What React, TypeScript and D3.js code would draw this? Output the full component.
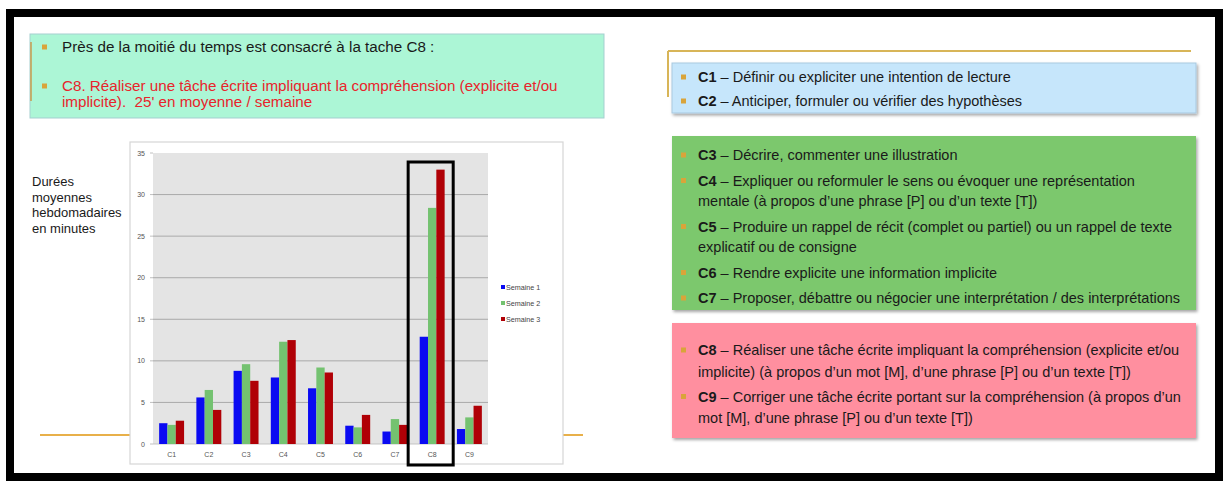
import React from 'react';
import * as d3 from 'd3';

const categories = ['C1', 'C2', 'C3', 'C4', 'C5', 'C6', 'C7', 'C8', 'C9'];
const semaine1 = [2.5, 5.6, 8.8, 8.0, 6.7, 2.2, 1.5, 12.9, 1.8];
const semaine2 = [2.3, 6.5, 9.6, 12.3, 9.2, 2.0, 3.0, 28.4, 3.2];
const semaine3 = [2.8, 4.1, 7.6, 12.5, 8.6, 3.5, 2.3, 33.0, 4.6];
const seriesNames = ['Semaine 1', 'Semaine 2', 'Semaine 3'];
const seriesColors = ['#0a0af2', '#74c270', '#b00006'];
const yTicks = [0, 5, 10, 15, 20, 25, 30, 35];
const yTitle = ['Durées', 'moyennes', 'hebdomadaires', 'en minutes'];
const highlight = 'C8';

// texte des encadrés de droite : [code, suite, lignes de continuation]
const blueItems: [string, string, string[]][] = [
  ['C1', ' – Définir ou expliciter une intention de lecture', []],
  ['C2', ' – Anticiper, formuler ou vérifier des hypothèses', []],
];
const greenItems: [string, string, string[]][] = [
  ['C3', ' – Décrire, commenter une illustration', []],
  ['C4', ' – Expliquer ou reformuler le sens ou évoquer une représentation', ['mentale (à propos d’une phrase [P] ou d’un texte [T])']],
  ['C5', ' – Produire un rappel de récit (complet ou partiel) ou un rappel de texte', ['explicatif ou de consigne']],
  ['C6', ' – Rendre explicite une information implicite', []],
  ['C7', ' – Proposer, débattre ou négocier une interprétation / des interprétations', []],
];
const pinkItems: [string, string, string[]][] = [
  ['C8', ' – Réaliser une tâche écrite impliquant la compréhension (explicite et/ou', ['implicite) (à propos d’un mot [M], d’une phrase [P] ou d’un texte [T])']],
  ['C9', ' – Corriger une tâche écrite portant sur la compréhension (à propos d’un', ['mot [M], d’une phrase [P] ou d’un texte [T])']],
];

const FONT = '"Liberation Sans", Arial, sans-serif';
const W = 1229;
const H = 484;

const Bullet = ({ x, y }: { x: number; y: number }) => (
  <rect x={x} y={y - 2.5} width={5} height={5} fill="#d9a43a" />
);

const Panel = ({ items, y0, lineH, gapH }: { items: [string, string, string[]][]; y0: number; lineH: number; gapH: number }) => {
  let y = y0;
  const out: React.ReactNode[] = [];
  items.forEach((it, i) => {
    out.push(<Bullet key={'b' + i} x={681} y={y - 5} />);
    out.push(
      <text key={'t' + i} x={698} y={y} fontSize={14.5} fill="#1a1a1a">
        <tspan fontWeight="bold">{it[0]}</tspan>
        <tspan>{it[1]}</tspan>
      </text>
    );
    it[2].forEach((l, j) => {
      y += lineH;
      out.push(<text key={'c' + i + j} x={698} y={y} fontSize={14.5} fill="#1a1a1a">{l}</text>);
    });
    y += gapH;
  });
  return <g>{out}</g>;
};

const App = () => {
  const plot = { left: 153, right: 488, top: 153, bottom: 444 };
  const frame = { left: 130, right: 563, top: 142, bottom: 464 };

  const x = d3.scaleBand<string>().domain(categories).range([plot.left, plot.right]).paddingInner(0.33).paddingOuter(0.165);
  const xs = d3.scaleBand<string>().domain(seriesNames).range([0, x.bandwidth()]);
  const y = d3.scaleLinear().domain([0, 35]).range([plot.bottom, plot.top]);
  const series = [semaine1, semaine2, semaine3];

  const hx0 = (x(highlight) as number) - x.step() * 0.31;
  const hx1 = (x(highlight) as number) + x.bandwidth() + x.step() * 0.23;

  return (
    <div style={{ position: 'fixed', left: 0, top: 0 }}>
      <svg width={W} height={H} viewBox={`0 0 ${W} ${H}`} fontFamily={FONT} style={{ display: 'block', background: '#fff' }}>
        <defs>
          <filter id="sh" x="-5%" y="-10%" width="110%" height="130%">
            <feDropShadow dx="1.5" dy="2" stdDeviation="1.4" floodColor="#000" floodOpacity="0.35" />
          </filter>
        </defs>

        {/* cadre noir */}
        <rect x={10} y={13} width={1209} height={464} fill="none" stroke="#000" strokeWidth={8} />

        {/* encadré vert menthe */}
        <rect x={30} y={34} width={574} height={84} fill="#acf6d6" stroke="#a5cfd0" strokeWidth={1} />
        <line x1={31} y1={42} x2={31} y2={101} stroke="#c99a4c" strokeWidth={1.5} />
        <Bullet x={42} y={47} />
        <text x={62} y={52} fontSize={15.2} fill="#1a1a1a">Près de la moitié du temps est consacré à la tache C8 :</text>
        <Bullet x={42} y={86} />
        <text x={62} y={91} fontSize={15.2} fill="#e8242b">C8. Réaliser une tâche écrite impliquant la compréhension (explicite et/ou</text>
        <text x={62} y={107} fontSize={15.2} fill="#e8242b" style={{ whiteSpace: 'pre' }}>implicite).  25' en moyenne / semaine</text>

        {/* titre de l'axe */}
        {yTitle.map((t, i) => (
          <text key={t} x={32} y={186 + i * 15.5} fontSize={13} fill="#1a1a1a">{t}</text>
        ))}

        {/* ligne décorative */}
        <line x1={40} y1={435} x2={583} y2={435} stroke="#e8b04a" strokeWidth={2} />

        {/* graphique */}
        <rect x={frame.left} y={frame.top} width={frame.right - frame.left} height={frame.bottom - frame.top} fill="#fff" stroke="#d6d6d6" strokeWidth={1.2} />
        <rect x={plot.left} y={plot.top} width={plot.right - plot.left} height={plot.bottom - plot.top} fill="#e4e4e4" />
        {yTicks.map(t => (
          <g key={t}>
            {t > 0 && t < 35 && <line x1={plot.left} x2={plot.right} y1={y(t)} y2={y(t)} stroke="#9a9a9a" strokeWidth={0.8} />}
            <line x1={plot.left - 3} x2={plot.left} y1={y(t)} y2={y(t)} stroke="#b0b0b0" strokeWidth={0.8} />
            <text x={plot.left - 8} y={y(t) + 2.5} fontSize={7} fill="#555" textAnchor="end">{t}</text>
          </g>
        ))}
        <line x1={plot.left} x2={plot.right} y1={plot.bottom} y2={plot.bottom} stroke="#b8b8b8" strokeWidth={0.8} />
        {categories.map((c, i) => (
          <g key={c}>
            {series.map((s, k) => (
              <rect key={k} x={(x(c) as number) + (xs(seriesNames[k]) as number)} y={y(s[i])} width={xs.bandwidth()} height={y(0) - y(s[i])} fill={seriesColors[k]} />
            ))}
            <text x={(x(c) as number) + x.bandwidth() / 2} y={457} fontSize={7} fill="#555" textAnchor="middle">{c}</text>
          </g>
        ))}
        <rect x={hx0} y={y(35) + 9} width={hx1 - hx0} height={frame.bottom - y(35) - 8} fill="none" stroke="#000" strokeWidth={3} />

        {/* légende */}
        {seriesNames.map((n, k) => (
          <g key={n}>
            <rect x={501} y={285 + k * 16} width={4} height={4} fill={seriesColors[k]} />
            <text x={506} y={290 + k * 16} fontSize={7.2} fill="#444">{n}</text>
          </g>
        ))}

        {/* panneau de droite */}
        <line x1={668} y1={51} x2={1191} y2={51} stroke="#d8b558" strokeWidth={2} />
        <line x1={668} y1={51} x2={668} y2={97} stroke="#d8b558" strokeWidth={2} />

        <rect x={672} y={63} width={524} height={50} fill="#c6e6fb" stroke="#a9c9df" strokeWidth={1} filter="url(#sh)" />
        <Panel items={blueItems} y0={82} lineH={20} gapH={24} />

        <rect x={672} y={136} width={524} height={174} fill="#7cc86d" filter="url(#sh)" />
        <Panel items={greenItems} y0={160} lineH={20.5} gapH={25.5} />

        <rect x={672} y={323} width={524} height={115} fill="#ff8f9f" filter="url(#sh)" />
        <Panel items={pinkItems} y0={355} lineH={21.5} gapH={25} />
      </svg>
    </div>
  );
};

export default App;
